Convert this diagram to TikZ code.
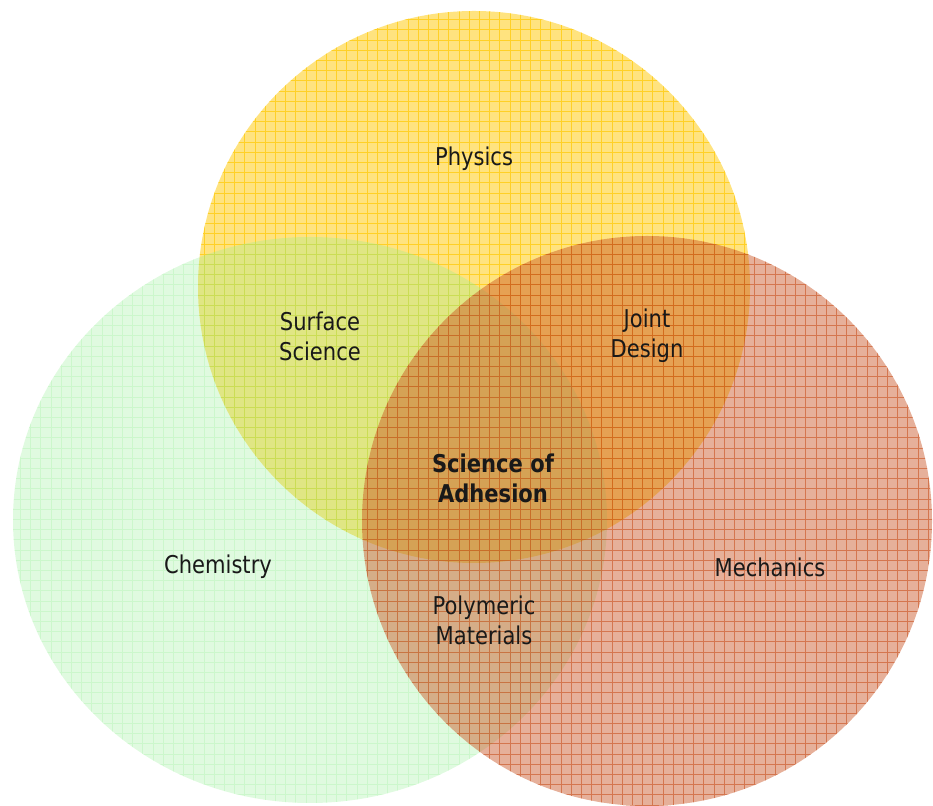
\documentclass[tikz,border=0pt]{standalone}
\usepackage{fontspec}
\setmainfont{DejaVu Sans}[FakeStretch=0.86]
\usetikzlibrary{positioning}
\definecolor{physcol}{RGB}{255,200,0}
\definecolor{chemcol}{RGB}{144,238,144}
\definecolor{mechcol}{RGB}{200,80,30}
\newcommand{\vennpatch}[5]% center, xdim, ydim, fill style, grid style
{\fill[#4] (#1) ellipse (#2 and #3);
 \begin{scope}
  \clip (#1) ellipse (#2 and #3);
  \draw[#5] (0,0) grid (933,805);
 \end{scope}
}

\begin{document}
\begin{tikzpicture}[x=1pt,y=1pt,
	physfill/.style={fill=physcol, fill opacity=0.5},
	physgrid/.style={physcol, draw opacity=0.7, line width=0.8pt, step=10.2},
	chemfill/.style={fill=chemcol, fill opacity=0.28},
	chemgrid/.style={chemcol, draw opacity=0.25, line width=0.8pt, step=10.2},
	mechfill/.style={fill=mechcol, fill opacity=0.45},
	mechgrid/.style={mechcol, draw opacity=0.6, line width=0.8pt, step=10.2},
	lbl/.style={align=center, text=black!90, font=\fontsize{24.5}{30}\selectfont}]
	\useasboundingbox (0,0) rectangle (933,805);
	\coordinate (phys) at (474,518);
	\coordinate (chem) at (310,285);
	\coordinate (mech) at (647,284);
	\vennpatch{phys}{276}{276}{physfill}{physgrid}
	\vennpatch{chem}{297}{283}{chemfill}{chemgrid}
	\vennpatch{mech}{285}{285}{mechfill}{mechgrid}
	\node[lbl] (physics) at (474,646) {Physics};
	\node[lbl] (surface) at (320,469) {Surface\\Science};
	\node[lbl] (joint) at (647,469) {Joint\\Design};
	\node[lbl, font=\fontsize{24.5}{30}\selectfont\bfseries] (adhesion) at (493,327) {Science of\\Adhesion};
	\node[lbl] (chemistry) at (218,238) {Chemistry};
	\node[lbl] (mechanics) at (770,238) {Mechanics};
	\node[lbl] (polymeric) at (484,185) {Polymeric\\Materials};
\end{tikzpicture}
\end{document}
